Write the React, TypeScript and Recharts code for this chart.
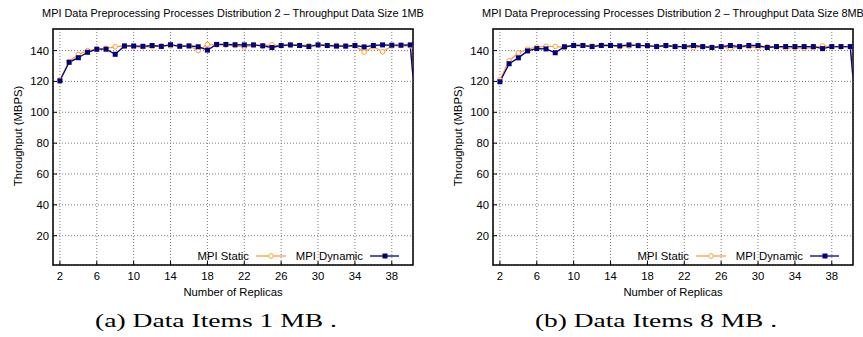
import React from "react";
import { LineChart, Line, XAxis, YAxis, CartesianGrid, ReferenceArea } from "recharts";

// replicas 2..40 plus the clipped point at 41 that makes the drop on the right edge
const REPLICAS = [
  2, 3, 4, 5, 6, 7, 8, 9, 10, 11, 12, 13, 14, 15, 16, 17, 18, 19, 20, 21,
  22, 23, 24, 25, 26, 27, 28, 29, 30, 31, 32, 33, 34, 35, 36, 37, 38, 39, 40, 41,
];

const STATIC_1MB = [
  121, 133, 137.5, 140, 141, 141.5, 142.5, 143, 142.5, 142.5, 142.5, 143, 143, 143, 143.2, 140, 144, 143.7, 143.5, 143.3,
  142.3, 143.5, 143, 143.8, 143, 143.5, 143.3, 143.3, 143.5, 143.2, 143.5, 143, 143, 139, 142.5, 139.2, 143, 143.3, 143, 75,
];
const DYNAMIC_1MB = [
  120.4, 132.4, 135.4, 138.9, 140.9, 140.9, 137.6, 143, 143, 142.8, 143.3, 142.7, 143.8, 142.8, 143, 142.5, 140.3, 144, 144, 143.8,
  143.7, 143.7, 143.1, 142, 143.3, 143.7, 143.3, 142.6, 143.7, 143.3, 142.9, 142.9, 143.3, 142.4, 143.3, 143.7, 143.5, 143.5, 143.7, 75,
];
const STATIC_8MB = [
  121, 133.3, 138.5, 141, 142.3, 142.8, 142.7, 142, 143.5, 143.3, 143, 143.5, 143.5, 142.5, 143, 143.5, 143, 142.8, 143, 142.8,
  142.5, 142, 142.5, 142.2, 142.5, 141.5, 142.5, 142.5, 142, 142.5, 142.5, 141.5, 142, 141.5, 142, 143, 142.5, 142.5, 142.5, 75,
];
const DYNAMIC_8MB = [
  119.8, 131.5, 135.3, 139.8, 141.3, 141.1, 138.6, 142.5, 143.3, 143.3, 142.6, 143.3, 143.3, 143.1, 143.7, 143.2, 143.2, 142.6, 143.3, 142.6,
  142.6, 143.3, 142.6, 142, 142.6, 143.3, 142.6, 143.3, 143.3, 142, 142.6, 142.6, 142.6, 142.6, 142.6, 141.3, 142.6, 142.6, 142.6, 75,
];

const X_TICKS = [2, 6, 10, 14, 18, 22, 26, 30, 34, 38];
const Y_TICKS = [20, 40, 60, 80, 100, 120, 140];
const X_DOMAIN: [number, number] = [1.25, 40.3];
const Y_DOMAIN: [number, number] = [1, 154];

const ORANGE = "#ffa033";
const NAVY = "#000080";
const FONT = '"Liberation Sans", Arial, Helvetica, sans-serif';
const SERIF = '"Liberation Serif", "DejaVu Serif", serif';
const FS = 11.3;
const TICK_LEN = 4;
const BOTTOM_MARGIN = 6.5;
const LEFT_MARGIN = 4;

function buildRows(stat: number[], dyn: number[]) {
  return REPLICAS.map((r, i) => ({ replicas: r, static: stat[i], dynamic: dyn[i] }));
}

// tick renderers: label outside + short inward tick mark (gnuplot style)
function BottomTick(props: any) {
  const { x, y, payload } = props;
  const base = y - BOTTOM_MARGIN;
  return (
    <g>
      <line x1={x} x2={x} y1={base} y2={base - TICK_LEN} stroke="#000" strokeWidth={1} />
      <text x={x} y={y} dy="0.71em" textAnchor="middle" fontSize={FS} fontFamily={FONT} fill="#000">
        {payload.value}
      </text>
    </g>
  );
}

function LeftTick(props: any) {
  const { x, y, payload } = props;
  const base = x + LEFT_MARGIN;
  return (
    <g>
      <line x1={base} x2={base + TICK_LEN} y1={y} y2={y} stroke="#000" strokeWidth={1} />
      <text x={x} y={y} dy="0.355em" textAnchor="end" fontSize={FS} fontFamily={FONT} fill="#000">
        {payload.value}
      </text>
    </g>
  );
}

function TopTick(props: any) {
  const { x, y } = props;
  return <line x1={x} x2={x} y1={y} y2={y + TICK_LEN} stroke="#000" strokeWidth={1} />;
}

function RightTick(props: any) {
  const { x, y } = props;
  return <line x1={x} x2={x - TICK_LEN} y1={y} y2={y} stroke="#000" strokeWidth={1} />;
}

function SquareDot(props: any) {
  const { cx, cy, index } = props;
  if (cx == null || cy == null) return <g key={index} />;
  return <rect key={index} x={cx - 2.5} y={cy - 2.5} width={5} height={5} fill={NAVY} />;
}

function Panel({
  left,
  width,
  title,
  caption,
  stat,
  dyn,
}: {
  left: number;
  width: number;
  title: string;
  caption: string;
  stat: number[];
  dyn: number[];
}) {
  const rows = buildRows(stat, dyn);
  return (
    <div style={{ position: "absolute", left, top: 0, width, height: 337 }}>
      <LineChart
        width={width}
        height={300}
        data={rows}
        margin={{ top: 29, right: width - 413, bottom: 5, left: 0 }}
      >
        <CartesianGrid stroke="#7a7a7a" strokeDasharray="1 2" strokeWidth={1} />
        <XAxis
          dataKey="replicas"
          type="number"
          domain={X_DOMAIN}
          allowDataOverflow
          ticks={X_TICKS}
          interval={0}
          height={30}
          tickSize={0}
          tickMargin={BOTTOM_MARGIN}
          axisLine={false}
          tickLine={false}
          tick={<BottomTick />}
        />
        <XAxis
          xAxisId="top"
          orientation="top"
          dataKey="replicas"
          type="number"
          domain={X_DOMAIN}
          allowDataOverflow
          ticks={X_TICKS}
          interval={0}
          height={0}
          tickSize={0}
          tickMargin={0}
          axisLine={false}
          tickLine={false}
          tick={<TopTick />}
        />
        <YAxis
          type="number"
          domain={Y_DOMAIN}
          allowDataOverflow
          ticks={Y_TICKS}
          interval={0}
          width={53}
          tickSize={0}
          tickMargin={LEFT_MARGIN}
          axisLine={false}
          tickLine={false}
          tick={<LeftTick />}
        />
        <YAxis
          yAxisId="right"
          orientation="right"
          type="number"
          domain={Y_DOMAIN}
          allowDataOverflow
          ticks={Y_TICKS}
          interval={0}
          width={0}
          tickSize={0}
          tickMargin={0}
          axisLine={false}
          tickLine={false}
          tick={<RightTick />}
        />
        <Line
          dataKey="static"
          stroke={ORANGE}
          strokeWidth={1.3}
          dot={{ r: 2.3, fill: "#fff", stroke: ORANGE, strokeWidth: 1 }}
          isAnimationActive={false}
        />
        <Line
          dataKey="dynamic"
          stroke={NAVY}
          strokeWidth={1.3}
          dot={<SquareDot />}
          isAnimationActive={false}
        />
        <ReferenceArea
          x1={X_DOMAIN[0]}
          x2={X_DOMAIN[1]}
          y1={Y_DOMAIN[0]}
          y2={Y_DOMAIN[1]}
          fill="none"
          stroke="#000"
          strokeWidth={1.5}
        />
      </LineChart>

      <svg
        width={width}
        height={337}
        style={{ position: "absolute", left: 0, top: 0, pointerEvents: "none" }}
      >
        <text x={233} y={17.3} textAnchor="middle" fontSize={10.9} fontFamily={FONT} fill="#000">
          {title}
        </text>
        <text
          x={21.5}
          y={136}
          transform="rotate(-90 21.5 136)"
          textAnchor="middle"
          fontSize={FS}
          fontFamily={FONT}
          fill="#000"
        >
          Throughput (MBPS)
        </text>
        <text x={233} y={295.5} textAnchor="middle" fontSize={FS} fontFamily={FONT} fill="#000">
          Number of Replicas
        </text>

        {/* key, bottom right inside the frame */}
        <text x={249} y={256} dy="0.355em" textAnchor="end" fontSize={FS} fontFamily={FONT} fill="#000">
          MPI Static
        </text>
        <line x1={256} x2={286} y1={256} y2={256} stroke={ORANGE} strokeWidth={1.3} />
        <circle cx={271} cy={256} r={2.3} fill="#fff" stroke={ORANGE} strokeWidth={1} />
        <text x={363} y={256} dy="0.355em" textAnchor="end" fontSize={FS} fontFamily={FONT} fill="#000">
          MPI Dynamic
        </text>
        <line x1={370} x2={399} y1={256} y2={256} stroke={NAVY} strokeWidth={1.3} />
        <rect x={382.5} y={253.5} width={5} height={5} fill={NAVY} />

        <text
          x={95}
          y={327}
          textLength={242}
          lengthAdjust="spacingAndGlyphs"
          fontSize={19.5}
          fontFamily={SERIF}
          fill="#000"
        >
          {caption}
        </text>
      </svg>
    </div>
  );
}

export default function App() {
  return (
    <div
      style={{
        position: "absolute",
        left: 0,
        top: 0,
        width: 863,
        height: 337,
        background: "#fff",
        overflow: "hidden",
      }}
    >
      <Panel
        left={0}
        width={440}
        title="MPI Data Preprocessing Processes Distribution 2 – Throughput Data Size 1MB"
        caption="(a) Data Items 1 MB ."
        stat={STATIC_1MB}
        dyn={DYNAMIC_1MB}
      />
      <Panel
        left={440}
        width={423}
        title="MPI Data Preprocessing Processes Distribution 2 – Throughput Data Size 8MB"
        caption="(b) Data Items 8 MB ."
        stat={STATIC_8MB}
        dyn={DYNAMIC_8MB}
      />
    </div>
  );
}
